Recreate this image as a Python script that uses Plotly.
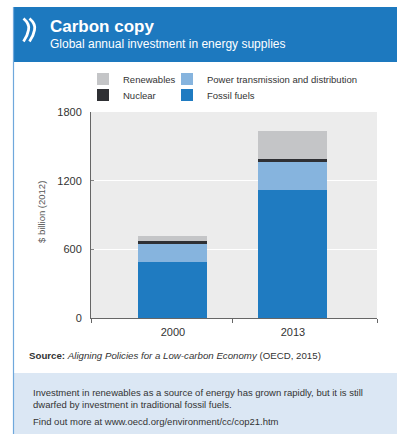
import plotly.graph_objects as go

years = ["2000", "2013"]
fossil = [487, 1120]
power = [160, 240]
nuclear = [23, 26]
renewables = [50, 248]

series = [
    ("Fossil fuels", fossil, "#1f7bc1", "legend4"),
    ("Power transmission and distribution", power, "#86b4de", "legend2"),
    ("Nuclear", nuclear, "#2f3034", "legend3"),
    ("Renewables", renewables, "#c4c5c7", "legend"),
]

W, H = 397, 434
L, R, T, B = 91, 377, 112, 318


def px(x):
    return (x - L) / (R - L)


def py(y):
    return (B - y) / (B - T)


xpos = list(range(len(years)))
fig = go.Figure()
for name, vals, col, lg in series:
    fig.add_trace(go.Bar(x=xpos, y=vals, name=name, marker_color=col,
                         marker_line_width=0, width=0.575, legend=lg))

font = "Liberation Sans, Arial, sans-serif"
shapes = [
    dict(type="rect", xref="paper", yref="paper", x0=px(13), x1=px(400), y0=py(62), y1=py(7),
         fillcolor="#1d79bf", line_width=0, layer="below"),
    dict(type="rect", xref="paper", yref="paper", x0=px(13), x1=px(400), y0=py(440), y1=py(373),
         fillcolor="#dbe7f4", line_width=0, layer="below"),
    dict(type="line", xref="paper", yref="paper", x0=px(13.5), x1=px(13.5), y0=py(440), y1=py(7),
         line=dict(color="#6fa8dc", width=1.2)),
    dict(type="path", xref="paper", yref="paper",
         path="M {},{} Q {},{} {},{} Q {},{} {},{}".format(
             px(23.5), py(18.5), px(30), py(24), px(28.5), py(30),
             px(27.5), py(36), px(23.5), py(41.5)),
         line=dict(color="white", width=2.8)),
    dict(type="path", xref="paper", yref="paper",
         path="M {},{} Q {},{} {},{} Q {},{} {},{}".format(
             px(29.5), py(18.5), px(36), py(24), px(34.5), py(30),
             px(33.5), py(36), px(29.5), py(41.5)),
         line=dict(color="white", width=2.8)),
]

annotations = [
    dict(text="<b>Carbon copy</b>", xref="paper", yref="paper", x=px(48), y=py(27),
         xanchor="left", yanchor="middle", showarrow=False,
         font=dict(family=font, size=17, color="white")),
    dict(text="Global annual investment in energy supplies", xref="paper", yref="paper",
         x=px(48), y=py(43.5), xanchor="left", yanchor="middle", showarrow=False,
         font=dict(family=font, size=12, color="white")),
    dict(text="$ billion (2012)", xref="paper", yref="paper", x=px(41), y=py(212),
         xanchor="center", yanchor="middle", textangle=-90, showarrow=False,
         font=dict(family=font, size=9.5, color="#555555")),
    dict(text="<b>Source:</b> <i>Aligning Policies for a Low-carbon Economy</i> (OECD, 2015)",
         xref="paper", yref="paper", x=px(27), y=py(355), xanchor="left", yanchor="middle",
         showarrow=False, font=dict(family=font, size=9.7, color="#333333")),
    dict(text="Investment in renewables as a source of energy has grown rapidly, but it is still<br>"
              "dwarfed by investment in traditional fossil fuels.",
         xref="paper", yref="paper", x=px(31), y=py(398), xanchor="left", yanchor="middle",
         align="left", showarrow=False, font=dict(family=font, size=9.5, color="#333333")),
    dict(text="Find out more at www.oecd.org/environment/cc/cop21.htm",
         xref="paper", yref="paper", x=px(31), y=py(421), xanchor="left", yanchor="middle",
         showarrow=False, font=dict(family=font, size=9.5, color="#333333")),
]

legend_common = dict(orientation="h", xref="paper", yref="paper", xanchor="left",
                     yanchor="middle", bgcolor="rgba(0,0,0,0)",
                     font=dict(family=font, size=9.5, color="#333333"),
                     itemwidth=30, tracegroupgap=0)

fig.update_layout(
    width=W, height=H,
    margin=dict(l=L, r=W - R, t=T, b=H - B, pad=0),
    paper_bgcolor="white", plot_bgcolor="#ececec",
    barmode="stack", bargap=0,
    showlegend=True,
    legend=dict(x=px(83), y=py(79), **legend_common),
    legend2=dict(x=px(167), y=py(79), **legend_common),
    legend3=dict(x=px(83), y=py(95), **legend_common),
    legend4=dict(x=px(167), y=py(95), **legend_common),
    xaxis=dict(range=[-0.683, 1.7], tickvals=xpos, ticktext=years, ticks="",
               showline=True, linecolor="#666666", linewidth=1, showgrid=False,
               zeroline=False, tickfont=dict(family=font, size=11, color="#333333"),
               ticklabelstandoff=4,
               minor=dict(tickvals=[-0.683, 0.5, 1.7], ticks="outside", ticklen=4,
                          tickcolor="#666666", showgrid=False)),
    yaxis=dict(range=[0, 1800], tickvals=[0, 600, 1200, 1800], ticks="inside", ticklen=3,
               tickcolor="#888888", showline=True, linecolor="#666666", linewidth=1,
               showgrid=True, gridcolor="white", gridwidth=1, zeroline=False,
               tickfont=dict(family=font, size=11, color="#333333"),
               ticklabelstandoff=6),
    shapes=shapes, annotations=annotations,
)

fig.write_html("out.html")
